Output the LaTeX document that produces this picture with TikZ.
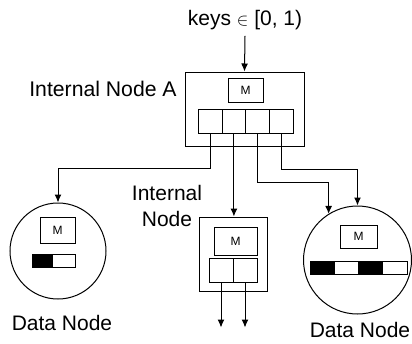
\documentclass[tikz,border=0pt]{standalone}
\usepackage{fontspec}
\setmainfont{Liberation Sans}
\usetikzlibrary{arrows.meta}

\tikzset{
  box/.style={draw, line width=1pt, inner sep=0pt},
  slot/.style={box, minimum width=23.7pt, minimum height=24pt},
  mbox/.style={box, font=\fontsize{12}{12}\selectfont},
  bit/.style={box, minimum height=13pt},
  arr/.style={line width=1pt, -{Latex[length=8pt,width=7pt]}},
  lbl/.style={font=\fontsize{21}{26}\selectfont, inner sep=0pt},
}

\begin{document}
\begin{tikzpicture}[x=1pt, y=-1pt]
            \useasboundingbox (0,0) rectangle (412,343);

            % root internal node with its model and four slots
            \node[box, minimum width=119pt, minimum height=74pt] (A) at (244.5,109) {};
            \node[mbox, minimum width=35pt, minimum height=24pt] (mA) at (245.5,90) {M};
            \foreach \i in {1,...,4}
                \node[slot] (s\i) at ({186.5+23.7*\i},121) {};

            % child internal node
            \node[box, minimum width=68pt, minimum height=74pt] (in) at (233,254) {};
            \node[mbox, minimum width=43pt, minimum height=28pt] (mIn) at (235.5,241) {M};
            \node[slot, minimum width=24pt] (t1) at (221,270) {};
            \node[slot, minimum width=24pt] (t2) at (245,270) {};

            % data nodes
            \node[box, circle, minimum size=96pt] (dl) at (58,251) {};
            \node[mbox, minimum width=35pt, minimum height=26pt] (mL) at (57.5,230) {M};
            \node[bit, fill=black, minimum width=20pt] (lb1) at (42,260.5) {};
            \node[bit, fill=white, minimum width=23pt] (lb2) at (63.5,260.5) {};

            \node[box, circle, minimum size=108pt] (dr) at (357.5,260) {};
            \node[mbox, minimum width=37pt, minimum height=23pt] (mR) at (358.5,236.5) {M};
            \foreach \i/\c in {1/black,2/white,3/black,4/white}
                \node[bit, fill=\c, minimum width=24.25pt] (rb\i) at ({298+24.25*\i},267.5) {};

            % labels
            \node[lbl] (keys) at (245,20) {keys {\fontsize{16}{16}\selectfont$\in$} [0, 1)};
            \node[lbl, font=\fontsize{21.2}{26}\selectfont] (lblA) at (103,89) {Internal Node A};
            \node[lbl, align=center] (lblIn) at (167,206) {Internal\\Node};
            \node[lbl] (lblL) at (62,323) {Data Node};
            \node[lbl] (lblR) at (360,330) {Data Node};

            % pointers
            \draw[arr] (keys.south) ++(0,6) -- (A.north);
            \draw[arr] (s1.south) -- ++(0,35) -| (dl.north);
            \draw[arr] (s2.south) -- (s2.south |- in.north);
            \draw[arr] (s3.south) -- ++(0,49) -| (dr.122);
            \draw[arr] (s4.south) -- ++(0,36) -| (dr.north);
            \draw[arr] (t1.south) -- ++(0,45);
            \draw[arr] (t2.south) -- ++(0,45);
\end{tikzpicture}
\end{document}
